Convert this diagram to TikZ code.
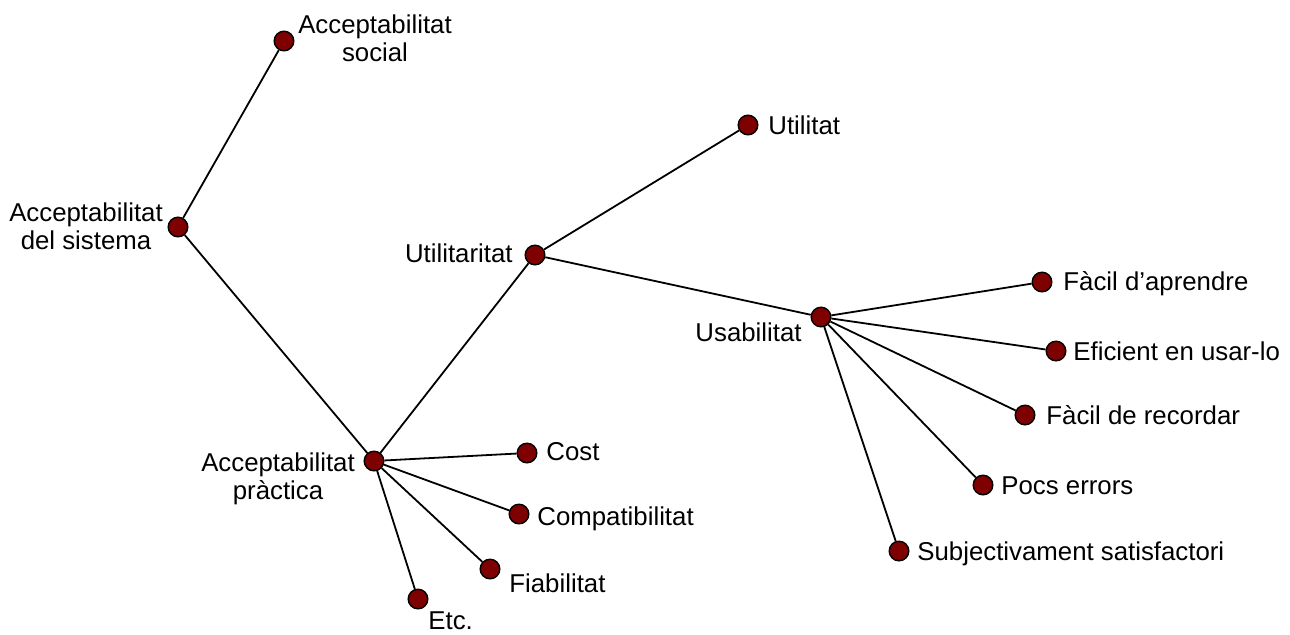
\documentclass[tikz,border=0pt]{standalone}
\usepackage{fontspec}
\setmainfont{Liberation Sans}
\definecolor{DotRed}{HTML}{7F0000}

\begin{document}
\begin{tikzpicture}[x=0.5pt, y=-0.5pt,
  every node/.style={font=\fontsize{12.9}{14}\selectfont},
  dot/.style={circle, draw=black, line width=0.7pt, fill=DotRed, minimum size=9.8pt, inner sep=0pt},
  lbl/.style={inner sep=0pt},
  branch/.style={line width=0.9pt}]
\useasboundingbox (0,0) rectangle (1290,634);

% Dots
\node[dot] (sys) at (178,227) {};
\node[dot] (soc) at (284,41) {};
\node[dot] (prac) at (374,461) {};
\node[dot] (utlr) at (535,255) {};
\node[dot] (utl) at (748,125) {};
\node[dot] (usab) at (821,317) {};
\node[dot] (cost) at (527,453) {};
\node[dot] (comp) at (519,514) {};
\node[dot] (fiab) at (490,569) {};
\node[dot] (etc) at (418,599) {};
\node[dot] (apr) at (1042,282) {};
\node[dot] (efi) at (1056,351) {};
\node[dot] (rec) at (1025,415) {};
\node[dot] (err) at (983,485) {};
\node[dot] (sat) at (899,551) {};

% Labels
\node[lbl, align=center] (soc-t) at (375,38) {Acceptabilitat\\social};
\node[lbl, align=center] (sys-t) at (86,226) {Acceptabilitat\\del sistema};
\node[lbl, align=center] (prac-t) at (278,479) {Acceptabilitat\\pràctica};
\node[lbl, anchor=base east] (utlr-t) at (513,262) {Utilitaritat};
\node[lbl, anchor=base west] (utl-t) at (768,134) {Utilitat};
\node[lbl, anchor=base east] (usab-t) at (802,341) {Usabilitat};
\node[lbl, anchor=base west] (cost-t) at (546,460) {Cost};
\node[lbl, anchor=base west] (comp-t) at (537,525) {Compatibilitat};
\node[lbl, anchor=base west] (fiab-t) at (509,592) {Fiabilitat};
\node[lbl, anchor=base west] (etc-t) at (428,629) {Etc.};
\node[lbl, anchor=base west] (apr-t) at (1063,290) {Fàcil d’aprendre};
\node[lbl, anchor=base west] (efi-t) at (1073,360) {Eficient en usar-lo};
\node[lbl, anchor=base west] (rec-t) at (1046,424) {Fàcil de recordar};
\node[lbl, anchor=base west] (err-t) at (1001,494) {Pocs errors};
\node[lbl, anchor=base west] (sat-t) at (917,560) {Subjectivament satisfactori};

% Branches
\foreach \a/\b in {sys/soc, sys/prac, prac/utlr, prac/cost, prac/comp, prac/fiab, prac/etc,
                   utlr/utl, utlr/usab, usab/apr, usab/efi, usab/rec, usab/err, usab/sat} {
  \draw[branch] (\a) -- (\b);
}
\end{tikzpicture}
\end{document}
